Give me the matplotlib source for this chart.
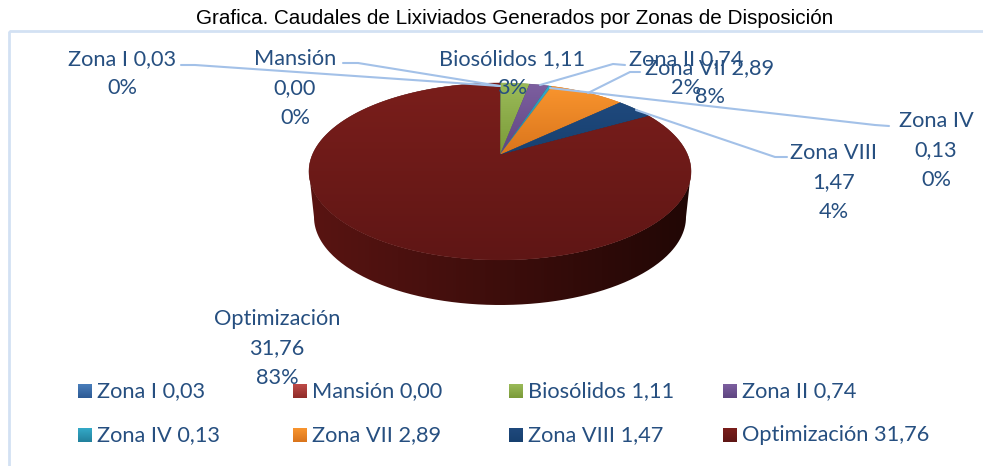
import numpy as np
import matplotlib
matplotlib.use("Agg")
import matplotlib.pyplot as plt
from matplotlib.path import Path
from matplotlib.patches import PathPatch, Rectangle

title = "Grafica. Caudales de Lixiviados Generados por Zonas de Disposición"
zones = ["Zona I", "Mansión", "Biosólidos", "Zona II", "Zona IV", "Zona VII", "Zona VIII", "Optimización"]
flows = [0.03, 0.00, 1.11, 0.74, 0.13, 2.89, 1.47, 31.76]
flow_labels = ["0,03", "0,00", "1,11", "0,74", "0,13", "2,89", "1,47", "31,76"]
percents = ["0%", "0%", "3%", "2%", "0%", "8%", "4%", "83%"]
top_colors = ["#4a7ebb", "#be4b48", "#9bbb59", "#7d5fa0", "#34aac8", "#f9952e", "#1f497d", "#7a1e1b"]
bot_colors = ["#2c5a94", "#8f2b28", "#7a9a38", "#5e4580", "#22809c", "#d9741c", "#17406f", "#5f1615"]

INK = "#264f80"
LEADER = "#a3c1e8"
W, H = 983, 466
FONT = "Lato"
FS = 15.7

fig = plt.figure(figsize=(W / 100, H / 100), dpi=100, facecolor="white")
ax = fig.add_axes([0, 0, 1, 1])
ax.set_xlim(0, W)
ax.set_ylim(H, 0)
ax.axis("off")

ax.add_patch(Rectangle((9, 31), W, H, fill=False, ec="#d3e1f3", lw=2, zorder=0))
fig.text(515 / W, 1 - 18 / H, title, ha="center", va="center", fontsize=14.9,
         family=["Liberation Sans Narrow", "Liberation Sans"], color="black")

# perspective disc
CX, CY, A, B, K = 500.0, 155.0, 187.7, 85.4, 0.186


def project(theta):
    u, v = np.sin(theta), np.cos(theta)
    w = 1 + K * v
    return CX + A * u / w, CY - B * v / w


def gradient(clip, x0, x1, y0, y1, c0, c1, horizontal=False, z=2):
    n = 128
    t = np.linspace(0, 1, n)
    a = np.array(matplotlib.colors.to_rgb(c0))
    b = np.array(matplotlib.colors.to_rgb(c1))
    img = (a[None, :] * (1 - t[:, None]) + b[None, :] * t[:, None])
    img = img[None, :, :] if horizontal else img[:, None, :]
    im = ax.imshow(img, extent=(x0, x1, y1, y0), aspect="auto", zorder=z, interpolation="bilinear")
    im.set_clip_path(clip)


# side wall
BCX, BCY, BA, BB = 500.0, 217.0, 186.0, 88.0
ts = np.linspace(-np.pi / 2, np.pi / 2, 200)
tx = CX + 191.0 * np.sin(ts)
ty = 171.5 + 88.5 * np.cos(ts)
bx = BCX + BA * np.sin(ts)
by = BCY + BB * np.cos(ts)
wall = np.r_[np.c_[tx, ty], np.c_[bx, by][::-1]]
patch = PathPatch(Path(wall, closed=False), fc="none", ec="none", zorder=1)
ax.add_patch(patch)
gradient(patch, 309, 691, 170, 306, "#591412", "#210705", horizontal=True, z=1)

# top slices
fractions = np.array(flows) / sum(flows)
edges = np.r_[0, np.cumsum(fractions)] * 2 * np.pi
for start, end, c0, c1 in zip(edges[:-1], edges[1:], top_colors, bot_colors):
    if end <= start:
        continue
    th = np.linspace(start, end, max(3, int((end - start) * 120)))
    x, y = project(th)
    verts = np.r_[[[CX, CY]], np.c_[x, y], [[CX, CY]]]
    patch = PathPatch(Path(verts), fc=c1, ec=c1, lw=0.3, zorder=2)
    ax.add_patch(patch)
    gradient(patch, x.min() - 1 if x.min() < CX else CX, max(x.max(), CX) + 1,
             min(y.min(), CY) - 1, max(y.max(), CY) + 1, c0, c1, z=2)

# data labels
labels = [
    (122, 58, f"{zones[0]} {flow_labels[0]}\n{percents[0]}"),
    (295, 58, f"{zones[1]}\n{flow_labels[1]}\n{percents[1]}"),
    (512, 58, f"{zones[2]} {flow_labels[2]}\n{percents[2]}"),
    (686, 58, f"{zones[3]} {flow_labels[3]}\n{percents[3]}"),
    (936, 120, f"{zones[4]}\n{flow_labels[4]}\n{percents[4]}"),
    (710, 67, f"{zones[5]} {flow_labels[5]}\n{percents[5]}"),
    (834, 152, f"{zones[6]}\n{flow_labels[6]}\n{percents[6]}"),
    (277, 318, f"{zones[7]}\n{flow_labels[7]}\n{percents[7]}"),
]
for x, y, s in labels:
    ax.text(x, y - 9, s, ha="center", va="top", fontsize=FS, family=FONT,
            color=INK, linespacing=1.58, zorder=5)

# leader lines
leaders = [
    ([181, 195, 500], [65, 65, 86]),
    ([343, 358, 500], [63, 63, 86]),
    ([625, 613, 540], [65, 64, 85]),
    ([640, 630, 588], [72, 72, 93]),
    ([889, 875, 550], [126, 125, 88]),
    ([787, 775, 636], [157, 157, 110]),
]
for xs, ys in leaders:
    ax.plot(xs, ys, color=LEADER, lw=1.5, zorder=4, solid_capstyle="round")

# legend
legend_x = [78, 293, 509, 723]
legend_y = [391, 435]
for i, (z, f, c0, c1) in enumerate(zip(zones, flow_labels, top_colors, bot_colors)):
    x = legend_x[i % 4]
    y = legend_y[i // 4]
    r = Rectangle((x, y - 7), 14, 14, fc=c1, ec="none", zorder=3)
    ax.add_patch(r)
    gradient(r, x, x + 14, y - 7, y + 7, c0, c1, z=3)
    ax.text(x + 19, y, f"{z} {f}", ha="left", va="center", fontsize=FS, family=FONT, color=INK, zorder=5)
ax.set_xlim(0, W)
ax.set_ylim(H, 0)

fig.savefig("out.png", dpi=100, facecolor="white")
